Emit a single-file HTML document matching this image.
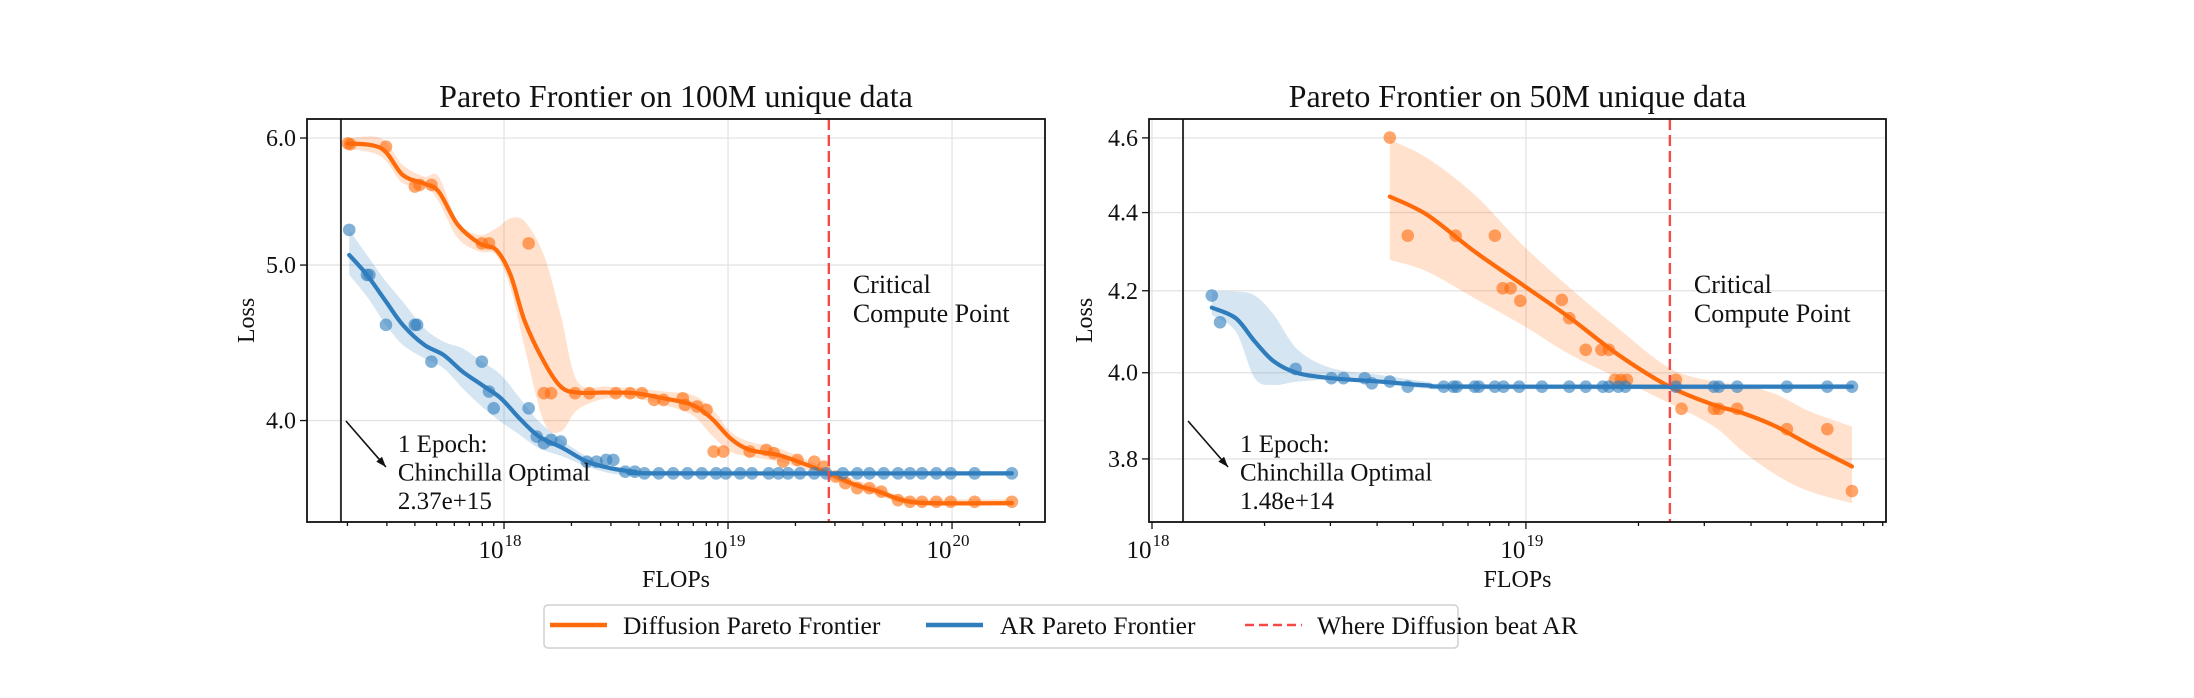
<!DOCTYPE html>
<html><head><meta charset="utf-8">
<style>
html,body{margin:0;padding:0;background:#fff;}
svg{display:block;font-family:"Liberation Serif","DejaVu Serif",serif;}
</style></head>
<body>
<svg id="fig" width="2194" height="698" viewBox="0 0 2194 698" xmlns="http://www.w3.org/2000/svg">
<rect width="2194" height="698" fill="#fff"/>
</svg>
<script>
// ---------- DATA: left panel (100M unique) ----------
const L_diffPtsX=[17.303,17.313,17.473,17.602,17.623,17.676,17.901,17.933,18.110,18.178,18.210,18.317,18.381,18.499,18.563,18.616,18.670,18.712,18.798,18.808,18.862,18.904,18.936,18.979,19.097,19.171,19.204,19.246,19.310,19.385,19.428,19.481,19.524,19.577,19.631,19.684,19.759,19.812,19.866,19.930,19.994,20.101,20.267];
const L_diffPtsY=[5.954,5.946,5.926,5.596,5.609,5.609,5.158,5.158,5.158,4.160,4.160,4.160,4.160,4.160,4.160,4.160,4.120,4.120,4.130,4.091,4.081,4.062,3.826,3.826,3.826,3.835,3.817,3.771,3.780,3.771,3.744,3.691,3.656,3.630,3.630,3.612,3.568,3.560,3.560,3.560,3.560,3.560,3.560];
const L_diffLineX=[17.303,17.452,17.548,17.644,17.708,17.794,17.890,17.965,18.029,18.093,18.178,18.253,18.328,18.456,18.584,18.712,18.840,18.926,19.011,19.097,19.225,19.353,19.449,19.567,19.673,19.780,19.908,20.267];
const L_diffLineY=[5.954,5.912,5.690,5.620,5.556,5.297,5.158,5.110,4.930,4.611,4.353,4.200,4.164,4.164,4.160,4.130,4.091,4.013,3.899,3.835,3.807,3.753,3.708,3.648,3.612,3.568,3.553,3.553];
const L_diffHi=[5.997,5.997,5.772,5.677,5.677,5.322,5.221,5.271,5.347,5.322,5.073,4.655,4.230,4.200,4.190,4.170,4.150,4.071,3.937,3.880,3.844,3.780,3.732,3.674,3.633,3.586,3.573,3.573];
const L_diffLo=[5.912,5.842,5.623,5.609,5.477,5.196,5.098,5.073,4.836,4.437,3.993,3.937,4.062,4.130,4.130,4.091,4.032,3.918,3.826,3.798,3.771,3.726,3.685,3.630,3.591,3.551,3.539,3.539];
const L_arPtsX=[17.309,17.388,17.399,17.473,17.602,17.612,17.676,17.901,17.933,17.954,18.110,18.146,18.178,18.210,18.253,18.370,18.413,18.456,18.488,18.541,18.584,18.627,18.691,18.755,18.819,18.883,18.947,18.990,19.054,19.107,19.182,19.225,19.268,19.321,19.385,19.438,19.513,19.577,19.631,19.695,19.759,19.812,19.866,19.930,19.994,20.101,20.267];
const L_arPtsY=[5.259,4.930,4.930,4.589,4.589,4.589,4.353,4.353,4.170,4.071,4.071,3.909,3.872,3.890,3.881,3.771,3.771,3.780,3.780,3.717,3.717,3.708,3.708,3.708,3.708,3.708,3.708,3.708,3.708,3.708,3.708,3.708,3.708,3.708,3.708,3.708,3.708,3.708,3.708,3.708,3.708,3.708,3.708,3.708,3.708,3.708,3.708];
const L_arLineX=[17.309,17.388,17.473,17.548,17.644,17.730,17.815,17.901,17.986,18.071,18.157,18.264,18.370,18.477,18.584,18.712,20.267];
const L_arLineY=[5.073,4.930,4.745,4.589,4.459,4.395,4.291,4.210,4.130,4.010,3.909,3.844,3.771,3.735,3.717,3.708,3.708];
const L_arHi=[5.259,5.073,4.883,4.745,4.567,4.480,4.437,4.353,4.271,4.130,3.993,3.885,3.798,3.744,3.726,3.720,3.720];
const L_arLo=[4.930,4.779,4.589,4.459,4.374,4.312,4.190,4.081,3.993,3.918,3.844,3.798,3.744,3.708,3.700,3.696,3.696];
const L_epoch=17.272, L_critical=19.450;
const L_xTickExp=[18,19,20];
const L_yTicks=[4.0,5.0,6.0];
const L_yTickLabels=["4.0","5.0","6.0"];

// ---------- DATA: right panel (50M unique) ----------
const R_diffPtsX=[18.636,18.684,18.812,18.917,18.938,18.959,18.985,19.096,19.116,19.160,19.202,19.222,19.238,19.254,19.270,19.401,19.416,19.503,19.516,19.565,19.698,19.806,19.872];
const R_diffPtsY=[4.601,4.340,4.340,4.340,4.206,4.206,4.175,4.177,4.132,4.055,4.055,4.055,3.983,3.983,3.983,3.983,3.915,3.915,3.915,3.915,3.868,3.868,3.728];
const R_diffLineX=[18.636,18.736,18.863,18.991,19.119,19.247,19.384,19.503,19.580,19.669,19.759,19.872];
const R_diffLineY=[4.442,4.394,4.299,4.215,4.132,4.043,3.967,3.924,3.905,3.874,3.832,3.783];
const R_diffHi=[4.595,4.545,4.447,4.316,4.206,4.107,4.011,3.979,3.971,3.949,3.909,3.874];
const R_diffLo=[4.278,4.248,4.181,4.115,4.043,3.987,3.928,3.874,3.817,3.764,3.727,3.701];
const R_arPtsX=[18.160,18.182,18.384,18.480,18.512,18.569,18.588,18.636,18.684,18.780,18.806,18.815,18.863,18.874,18.917,18.940,18.982,19.043,19.116,19.160,19.206,19.222,19.247,19.266,19.401,19.503,19.516,19.565,19.698,19.806,19.872];
const R_arPtsY=[4.188,4.122,4.009,3.987,3.987,3.987,3.975,3.979,3.967,3.967,3.967,3.967,3.967,3.967,3.967,3.967,3.967,3.967,3.967,3.967,3.967,3.967,3.967,3.967,3.967,3.967,3.967,3.967,3.967,3.967,3.967];
const R_arLineX=[18.160,18.224,18.275,18.326,18.390,18.480,18.608,18.736,18.863,19.872];
const R_arLineY=[4.158,4.132,4.075,4.027,3.999,3.987,3.979,3.970,3.967,3.967];
const R_arHi=[4.198,4.198,4.188,4.140,4.055,4.011,3.995,3.979,3.973,3.973];
const R_arLo=[4.140,4.099,3.987,3.971,3.979,3.983,3.975,3.962,3.961,3.961];
const R_epoch=18.083, R_critical=19.385;
const R_xTickExp=[18,19];
const R_yTicks=[3.8,4.0,4.2,4.4,4.6];
const R_yTickLabels=["3.8","4.0","4.2","4.4","4.6"];

const ORANGE="#ff6a0a", BLUE="#2f7dbd", RED="#f24a4a";
const NS="http://www.w3.org/2000/svg";
const svg=document.getElementById('fig');
function mk(tag,attrs,parent){const e=document.createElementNS(NS,tag);for(const k in attrs)e.setAttribute(k,attrs[k]);(parent||svg).appendChild(e);return e;}

function catmull(pts){
  if(pts.length<2)return '';
  let d='M'+pts[0][0].toFixed(2)+','+pts[0][1].toFixed(2);
  for(let i=0;i<pts.length-1;i++){
    const p0=pts[Math.max(0,i-1)],p1=pts[i],p2=pts[i+1],p3=pts[Math.min(pts.length-1,i+2)];
    const c1=[p1[0]+(p2[0]-p0[0])/6,p1[1]+(p2[1]-p0[1])/6];
    const c2=[p2[0]-(p3[0]-p1[0])/6,p2[1]-(p3[1]-p1[1])/6];
    d+=' C'+c1[0].toFixed(2)+','+c1[1].toFixed(2)+' '+c2[0].toFixed(2)+','+c2[1].toFixed(2)+' '+p2[0].toFixed(2)+','+p2[1].toFixed(2);
  }
  return d;
}

function panel(cfg){
  const g=mk('g',{});
  
  
  const {x0,x1,y0,y1,xmin,xmax,ymin,ymax}=cfg;
  const X=v=>x0+(v-xmin)/(xmax-xmin)*(x1-x0);
  const Y=v=>y1-(Math.log(v)-Math.log(ymin))/(Math.log(ymax)-Math.log(ymin))*(y1-y0);
  const cp=mk('clipPath',{id:cfg.id+'clip'},g);
  mk('rect',{x:x0,y:y0,width:x1-x0,height:y1-y0},cp);
  const grid=mk('g',{stroke:'#e3e3e3','stroke-width':1.3},g);
  
  
  cfg.xExp.forEach(e=>{const x=X(e);mk('line',{x1:x,x2:x,y1:y0,y2:y1},grid);});
  cfg.yTicks.forEach(t=>{const y=Y(t);mk('line',{x1:x0,x2:x1,y1:y,y2:y},grid);});
  const plot=mk('g',{'clip-path':'url(#'+cfg.id+'clip)'},g);
  function series(px,py,lx,ly,hi,lo,color,nm){
    const upper=lx.map((v,i)=>[X(v),Y(hi[i])]);
    const lower=lx.map((v,i)=>[X(v),Y(lo[i])]).reverse();
    const up=catmull(upper), lw=catmull(lower);
    const band=mk('path',{d:up+' L'+lw.slice(1)+' Z',fill:color,'fill-opacity':0.2,stroke:'none'},plot);
    
    
    const pg=mk('g',{},plot);
    
    
    px.forEach((v,i)=>{
      const c=mk('circle',{cx:X(v),cy:Y(py[i]),r:6.3,fill:color,'fill-opacity':0.6},pg);
      
      
    });
    const line=mk('path',{d:catmull(lx.map((v,i)=>[X(v),Y(ly[i])])),fill:'none',stroke:color,'stroke-width':4.2,'stroke-linecap':'round'},plot);
    
    
  }
  series(cfg.diff[0],cfg.diff[1],cfg.diff[2],cfg.diff[3],cfg.diff[4],cfg.diff[5],ORANGE,'diffusion');
  series(cfg.ar[0],cfg.ar[1],cfg.ar[2],cfg.ar[3],cfg.ar[4],cfg.ar[5],BLUE,'ar');
  const ep=mk('line',{x1:X(cfg.epoch),x2:X(cfg.epoch),y1:y0,y2:y1,stroke:'#333','stroke-width':2},g);
  
  
  const cr=mk('line',{x1:X(cfg.crit),x2:X(cfg.crit),y1:y0,y2:y1,stroke:RED,'stroke-width':2.4,'stroke-dasharray':'11,5'},g);
  
  
  const fr=mk('rect',{x:x0,y:y0,width:x1-x0,height:y1-y0,fill:'none',stroke:'#111','stroke-width':1.8},g);
  
  
  const xt=mk('g',{stroke:'#111','stroke-width':1.3},g);
  
  
  for(let d=Math.floor(xmin);d<=Math.ceil(xmax);d++){
    for(let k=1;k<=9;k++){
      const lv=d+Math.log10(k);
      if(lv<xmin-1e-6||lv>xmax+1e-6)continue;
      const x=X(lv);mk('line',{x1:x,x2:x,y1:y1,y2:y1+(k===1?7:4)},xt);
    }
  }
  cfg.xExp.forEach(e=>{
    const t=mk('text',{x:X(e)-4,y:y1+36,'font-size':25,'text-anchor':'middle',fill:'#111'},g);
    
    
    t.textContent='10';
    const s=mk('tspan',{dx:1,dy:-12,'font-size':17},t);s.textContent=String(e);
  });
  cfg.yTicks.forEach((v,i)=>{
    const y=Y(v);
    mk('line',{x1:x0-7,x2:x0,y1:y,y2:y,stroke:'#111','stroke-width':1.3},g);
    const t=mk('text',{x:x0-11,y:y+8,'font-size':24,'text-anchor':'end',fill:'#111'},g);
    
    
    t.textContent=cfg.yLabels[i];
  });
  const ti=mk('text',{x:(x0+x1)/2,y:y0-12,'font-size':32,'text-anchor':'middle',fill:'#111'},g);
  
  
  ti.textContent=cfg.title;
  const xl=mk('text',{x:(x0+x1)/2,y:587,'font-size':24,'text-anchor':'middle',fill:'#111'},g);
  
  
  xl.textContent='FLOPs';
  const yl=mk('text',{x:0,y:0,'font-size':24,'text-anchor':'middle',fill:'#111',transform:'translate('+(cfg.ylabX)+','+((y0+y1)/2)+') rotate(-90)'},g);
  
  
  yl.textContent='Loss';
  const cx=X(cfg.crit)+24;
  const ct=mk('text',{x:cx,y:293,'font-size':26,fill:'#111'},g);
  
  
  const t1=mk('tspan',{x:cx,y:293},ct);t1.textContent='Critical';
  const t2=mk('tspan',{x:cx,y:322},ct);t2.textContent='Compute Point';
  const ex=X(cfg.epoch);
  const ar=mk('g',{},g);
  
  
  const ax1=ex+5,ay1=421,ax2=ex+45,ay2=467;
  mk('line',{x1:ax1,y1:ay1,x2:ax2,y2:ay2,stroke:'#111','stroke-width':1.6},ar);
  const ang=Math.atan2(ay2-ay1,ax2-ax1);
  const hp=[[ax2,ay2],[ax2-11*Math.cos(ang-0.35),ay2-11*Math.sin(ang-0.35)],[ax2-11*Math.cos(ang+0.35),ay2-11*Math.sin(ang+0.35)]];
  mk('polygon',{points:hp.map(p=>p.join(',')).join(' '),fill:'#111'},ar);
  const et=mk('text',{'font-size':25,fill:'#111'},g);
  
  
  const lines=['1 Epoch:','Chinchilla Optimal',cfg.epochLabel];
  lines.forEach((s,i)=>{const tp=mk('tspan',{x:ex+57,y:452+i*28.5},et);tp.textContent=s;});
}

panel({id:'L',name:'panel-100m',x0:307,x1:1045,y0:119,y1:522,xmin:17.1205,xmax:20.415,ymin:3.458,ymax:6.166,
  xExp:L_xTickExp,yTicks:L_yTicks,yLabels:L_yTickLabels,title:'Pareto Frontier on 100M unique data',ylabX:254,
  diff:[L_diffPtsX,L_diffPtsY,L_diffLineX,L_diffLineY,L_diffHi,L_diffLo],
  ar:[L_arPtsX,L_arPtsY,L_arLineX,L_arLineY,L_arHi,L_arLo],
  epoch:L_epoch,crit:L_critical,epochLabel:'2.37e+15'});
panel({id:'R',name:'panel-50m',x0:1149,x1:1886,y0:119,y1:522,xmin:17.992,xmax:19.963,ymin:3.660,ymax:4.652,
  xExp:R_xTickExp,yTicks:R_yTicks,yLabels:R_yTickLabels,title:'Pareto Frontier on 50M unique data',ylabX:1092,
  diff:[R_diffPtsX,R_diffPtsY,R_diffLineX,R_diffLineY,R_diffHi,R_diffLo],
  ar:[R_arPtsX,R_arPtsY,R_arLineX,R_arLineY,R_arHi,R_arLo],
  epoch:R_epoch,crit:R_critical,epochLabel:'1.48e+14'});

const lg=mk('g',{});


mk('rect',{x:544,y:605,width:914,height:43,rx:4,fill:'#fff',stroke:'#d0d0d0','stroke-width':1.5},lg);
const entries=[['Diffusion Pareto Frontier',ORANGE,550,623,false],['AR Pareto Frontier',BLUE,926,1000,false],['Where Diffusion beat AR',RED,1245,1317,true]];
entries.forEach(en=>{
  const eg=mk('g',{},lg);
  
  
  mk('line',{x1:en[2],x2:en[2]+57,y1:625,y2:625,stroke:en[1],'stroke-width':en[4]?2.6:4.5,'stroke-dasharray':en[4]?'9,5':'none'},eg);
  const t=mk('text',{x:en[3],y:634,'font-size':25.5,fill:'#111'},eg);t.textContent=en[0];
});
</script>
</body></html>
